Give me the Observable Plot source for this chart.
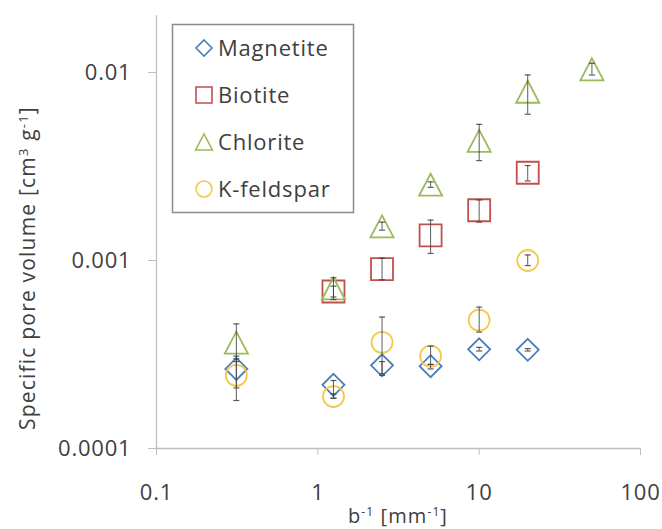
<!DOCTYPE html>
<html>
<head>
<meta charset="utf-8">
<script src="https://cdn.jsdelivr.net/npm/d3@7"></script>
<script src="https://cdn.jsdelivr.net/npm/@observablehq/plot@0.6"></script>
<style>
  html, body { margin: 0; padding: 0; background: #fff; }
  #chart { width: 662px; height: 529px; }
</style>
</head>
<body>
<div id="chart"></div>
<script>
// Inverse aperture b^-1 [mm^-1]
const bInv = [0.3125, 1.25, 2.5, 5, 10, 20, 50];

// Specific pore volume [cm3 g-1] per mineral, with error-bar bounds
const magnetite   = [2.65e-4, 2.18e-4, 2.77e-4, 2.74e-4, 3.37e-4, 3.35e-4, null];
const magnetiteLo = [2.10e-4, 1.85e-4, 2.45e-4, 2.65e-4, 3.30e-4, 3.30e-4, null];
const magnetiteHi = [3.00e-4, 2.30e-4, 2.90e-4, 2.80e-4, 3.45e-4, 3.40e-4, null];

const biotite     = [null, 6.84e-4, 9.00e-4, 1.36e-3, 1.85e-3, 2.93e-3, null];
const biotiteLo   = [null, 6.40e-4, 7.90e-4, 1.09e-3, 1.60e-3, 2.65e-3, null];
const biotiteHi   = [null, 7.30e-4, 1.03e-3, 1.64e-3, 2.10e-3, 3.20e-3, null];

const chlorite    = [3.66e-4, 7.10e-4, 1.52e-3, 2.53e-3, 4.33e-3, 7.90e-3, 1.04e-2];
const chloriteLo  = [2.90e-4, 6.20e-4, 1.45e-3, 2.45e-3, 3.40e-3, 6.00e-3, 0.97e-2];
const chloriteHi  = [4.60e-4, 8.10e-4, 1.60e-3, 2.62e-3, 5.30e-3, 9.70e-3, 1.12e-2];

const kfeldspar   = [2.45e-4, 1.89e-4, 3.67e-4, 3.10e-4, 4.82e-4, 1.00e-3, null];
const kfeldsparLo = [1.80e-4, 1.85e-4, 2.50e-4, 2.80e-4, 4.16e-4, 0.94e-3, null];
const kfeldsparHi = [3.10e-4, 1.95e-4, 5.00e-4, 3.50e-4, 5.65e-4, 1.07e-3, null];

// Axis ticks and their labels
const xTicks = [0.1, 1, 10, 100];
const xTickLabels = ["0.1", "1", "10", "100"];
const yTicks = [0.0001, 0.001, 0.01];
const yTickLabels = ["0.0001", "0.001", "0.01"];

// Outline marker shapes; the half-extent comes from the symbol size
const rad = size => Math.sqrt(size / Math.PI);
const diamondSym = {draw(c, s) { const r = rad(s); c.moveTo(0, -r); c.lineTo(r, 0); c.lineTo(0, r); c.lineTo(-r, 0); c.closePath(); }};
const squareSym = {draw(c, s) { const r = rad(s); c.rect(-r, -r, 2 * r, 2 * r); }};
const triangleSym = {draw(c, s) { const r = rad(s); c.moveTo(0, -r); c.lineTo(r * 1.05, r); c.lineTo(-r * 1.05, r); c.closePath(); }};
const circleSym = {draw(c, s) { const r = rad(s); c.moveTo(r, 0); c.arc(0, 0, r, 0, 2 * Math.PI); }};
const capSym = {draw(c, s) { const r = rad(s); c.moveTo(-r, 0); c.lineTo(r, 0); }};

const series = [
  {name: "Magnetite", values: magnetite, lo: magnetiteLo, hi: magnetiteHi, color: "#4a7ebb", symbol: diamondSym, r: 11},
  {name: "Biotite", values: biotite, lo: biotiteLo, hi: biotiteHi, color: "#c0504d", symbol: squareSym, r: 11},
  {name: "Chlorite", values: chlorite, lo: chloriteLo, hi: chloriteHi, color: "#9bbb59", symbol: triangleSym, r: 11},
  {name: "K-feldspar", values: kfeldspar, lo: kfeldsparLo, hi: kfeldsparHi, color: "#f2c94c", symbol: circleSym, r: 10.5}
];

const rows = s => bInv.map((x, i) => ({x, y: s.values[i], lo: s.lo[i], hi: s.hi[i]})).filter(d => d.y != null);

const axisGray = "#bfbfbf";
const textGray = "#404040";
const errGray = "#404040";
const font = "Open Sans, Lato, sans-serif";

const marks = [
  Plot.ruleX([0.1], {stroke: axisGray, strokeWidth: 1.3}),
  Plot.ruleY([0.0001], {stroke: axisGray, strokeWidth: 1.3}),
  Plot.axisY({
    ticks: yTicks, tickFormat: d => yTickLabels[yTicks.indexOf(d)],
    tickSize: 8, tickPadding: 17, stroke: axisGray, fill: textGray,
    fontSize: 22, label: null
  }),
  Plot.axisX({
    ticks: xTicks, tickFormat: d => xTickLabels[xTicks.indexOf(d)],
    tickSize: 7, tickPadding: 29, stroke: axisGray, fill: textGray,
    fontSize: 22, label: null
  })
];

for (const s of series) {
  marks.push(Plot.dot(rows(s), {x: "x", y: "y", symbol: s.symbol, r: s.r, stroke: s.color, strokeWidth: 1.8, fill: "none"}));
}
for (const s of series) {
  const d = rows(s);
  marks.push(Plot.ruleX(d, {x: "x", y1: "lo", y2: "hi", stroke: errGray, strokeWidth: 1, strokeOpacity: 0.85}));
  marks.push(Plot.dot(d, {x: "x", y: "lo", symbol: capSym, r: 3, stroke: errGray, strokeWidth: 1.2, strokeOpacity: 0.85}));
  marks.push(Plot.dot(d, {x: "x", y: "hi", symbol: capSym, r: 3, stroke: errGray, strokeWidth: 1.2, strokeOpacity: 0.85}));
}

const plot = Plot.plot({
  width: 662,
  height: 529,
  marginLeft: 156,
  marginRight: 22,
  marginTop: 15,
  marginBottom: 81,
  style: {fontFamily: font, background: "#fff", color: textGray, letterSpacing: "0.8px"},
  x: {type: "log", domain: [0.1, 100]},
  y: {type: "log", domain: [0.0001, 0.0201]},
  marks
});

document.getElementById("chart").append(plot);

// Axis titles with superscripts, and the series legend box
const svg = d3.select(plot);

const xt = svg.append("text")
  .attr("x", 398).attr("y", 516).attr("dy", "0.35em")
  .attr("text-anchor", "middle").attr("fill", textGray)
  .style("font-family", font).style("font-size", "20px").style("letter-spacing", "1.1px");
xt.append("tspan").text("b");
xt.append("tspan").attr("dy", -7).style("font-size", "12px").text("-1");
xt.append("tspan").attr("dy", 7).text(" [mm");
xt.append("tspan").attr("dy", -7).style("font-size", "12px").text("-1");
xt.append("tspan").attr("dy", 7).text("]");

const yt = svg.append("text")
  .attr("transform", "translate(28,268) rotate(-90)").attr("dy", "0.35em")
  .attr("text-anchor", "middle").attr("fill", textGray)
  .style("font-family", font).style("font-size", "21px").style("letter-spacing", "1.2px");
yt.append("tspan").text("Specific pore volume [cm");
yt.append("tspan").attr("dy", -7).style("font-size", "13px").text("3");
yt.append("tspan").attr("dy", 7).text(" g");
yt.append("tspan").attr("dy", -7).style("font-size", "13px").text("-1");
yt.append("tspan").attr("dy", 7).text("]");

const lg = svg.append("g");
lg.append("rect")
  .attr("x", 172.5).attr("y", 24.5).attr("width", 181).attr("height", 188)
  .attr("fill", "#fff").attr("stroke", "#8c8c8c").attr("stroke-width", 1.5);
series.forEach((s, i) => {
  const cy = 48 + i * 47;
  const p = d3.path();
  s.symbol.draw(p, Math.PI * 8 * 8);
  lg.append("path").attr("d", p.toString())
    .attr("transform", `translate(204,${cy})`)
    .attr("fill", "none").attr("stroke", s.color).attr("stroke-width", 1.6);
  lg.append("text")
    .attr("x", 218).attr("y", cy).attr("dy", "0.35em")
    .attr("text-anchor", "start").attr("fill", textGray)
    .style("font-family", font).style("font-size", "22px")
    .text(s.name);
});
</script>
</body>
</html>
